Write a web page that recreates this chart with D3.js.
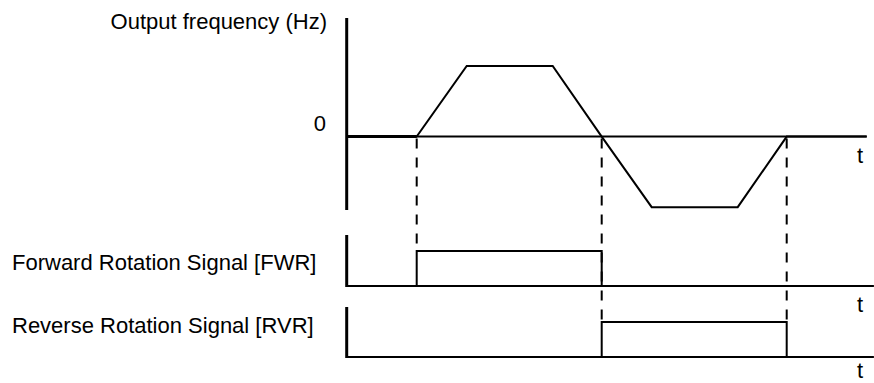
<!DOCTYPE html>
<html>
<head>
<meta charset="utf-8">
<script src="https://cdn.jsdelivr.net/npm/d3@7"></script>
<style>
  body { margin: 0; background: #fff; }
  text { font-family: "Liberation Sans", Arial, sans-serif; font-size: 22px; fill: #000; }
</style>
</head>
<body>
<div id="chart"></div>
<script>
// time keys (arbitrary units) and the output frequency at each
const times = [0, 7, 12, 20.6, 25.5, 30.5, 39.1, 44, 52];
const freq  = [0, 0, 50, 50, 0, -50, -50, 0, 0];

// run command signals (step after each time)
const fwrTimes = [0, 7, 25.5, 52.7];
const fwrLevel = [0, 1, 0, 0];
const rvrTimes = [0, 25.5, 44, 52.7];
const rvrLevel = [0, 1, 0, 0];

// dashed guides at the switching moments
const switchTimes = [7, 25.5, 44];

const labels = {
  freq: "Output frequency (Hz)",
  zero: "0",
  fwr: "Forward Rotation Signal [FWR]",
  rvr: "Reverse Rotation Signal [RVR]",
  t: "t"
};

window.onload = init;

function init()
{
    const width = 874, height = 383;
    const svg = d3.select('#chart').append('svg').attr('width', width).attr('height', height);

    const x = d3.scaleLinear().domain([0, 52]).range([346.7, 866.7]);
    const yF = d3.scaleLinear().domain([-52, 84]).range([210, 18]);
    const yFwr = d3.scaleLinear().domain([0, 1]).range([286, 251]);
    const yRvr = d3.scaleLinear().domain([0, 1]).range([357, 322]);

    const ink = '#000';

    // --- frequency panel ---
    svg.append('line')
        .attr('x1', x(0)).attr('x2', x(0))
        .attr('y1', yF(84)).attr('y2', yF(-52))
        .attr('stroke', ink).attr('stroke-width', 3);
    svg.append('line')
        .attr('x1', x(0)).attr('x2', x(52))
        .attr('y1', yF(0)).attr('y2', yF(0))
        .attr('stroke', ink).attr('stroke-width', 2);
    // lead in before accel is drawn heavier in the original
    svg.append('line')
        .attr('x1', x(0)).attr('x2', x(times[1]))
        .attr('y1', yF(0)).attr('y2', yF(0))
        .attr('stroke', ink).attr('stroke-width', 3);

    const pts = times.map((t, i) => [t, freq[i]]);
    const line = d3.line().x(d => x(d[0])).y(d => yF(d[1]));
    svg.append('path').attr('d', line(pts))
        .attr('fill', 'none').attr('stroke', ink).attr('stroke-width', 2)
        .attr('stroke-linejoin', 'miter');

    // dashed guides down to each signal edge
    const guideEnd = [yFwr(1), yRvr(1), yRvr(1)];
    svg.selectAll('.guide').data(switchTimes).enter().append('line')
        .attr('class', 'guide')
        .attr('x1', d => x(d)).attr('x2', d => x(d))
        .attr('y1', yF(0) + 2).attr('y2', (d, i) => guideEnd[i])
        .attr('stroke', ink).attr('stroke-width', 2)
        .attr('stroke-dasharray', '10,9');

    // --- signal panels ---
    function signal(scale, ts, lv, top)
    {
        svg.append('line')
            .attr('x1', x(0)).attr('x2', x(0))
            .attr('y1', top).attr('y2', scale(0) + 1)
            .attr('stroke', ink).attr('stroke-width', 3);
        svg.append('line')
            .attr('x1', x(0)).attr('x2', x(52.7))
            .attr('y1', scale(0)).attr('y2', scale(0))
            .attr('stroke', ink).attr('stroke-width', 2);
        const sl = d3.line().curve(d3.curveStepAfter).x(d => x(d[0])).y(d => scale(d[1]));
        svg.append('path').attr('d', sl(ts.map((t, i) => [t, lv[i]])))
            .attr('fill', 'none').attr('stroke', ink).attr('stroke-width', 2);
    }
    signal(yFwr, fwrTimes, fwrLevel, 235);
    signal(yRvr, rvrTimes, rvrLevel, 307);

    // --- text ---
    svg.append('text').attr('x', 327).attr('y', 29).attr('text-anchor', 'end').text(labels.freq);
    svg.append('text').attr('x', 326).attr('y', 131).attr('text-anchor', 'end').text(labels.zero);
    svg.append('text').attr('x', 12).attr('y', 270).text(labels.fwr);
    svg.append('text').attr('x', 12).attr('y', 333).text(labels.rvr);

    const tY = [yF(0) + 26, yFwr(0) + 26, yRvr(0) + 21];
    svg.selectAll('.tl').data(tY).enter().append('text')
        .attr('class', 'tl')
        .attr('x', 857).attr('y', d => d).text(labels.t);
}
</script>
</body>
</html>
